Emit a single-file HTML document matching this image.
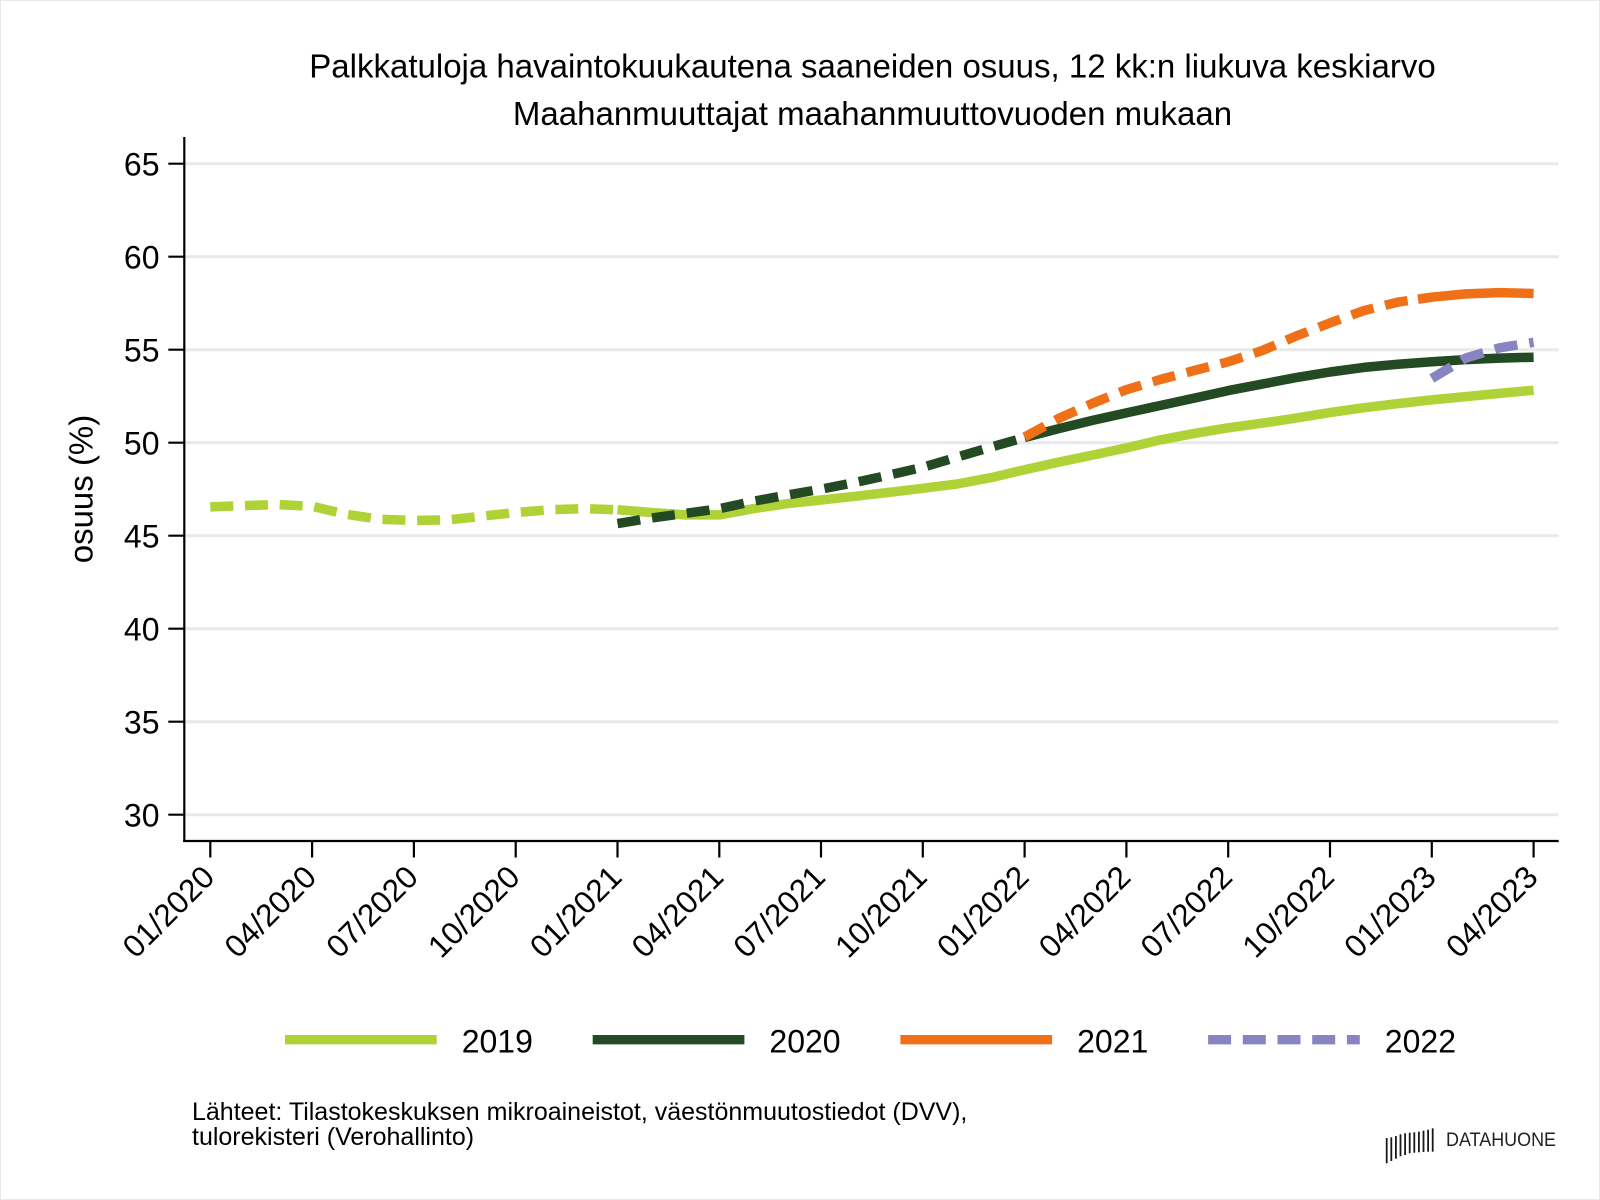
<!DOCTYPE html>
<html>
<head>
<meta charset="utf-8">
<style>
html,body{margin:0;padding:0;background:#fff;}
svg{display:block;}
text{font-family:"Liberation Sans",Arial,sans-serif;fill:#000;}
</style>
</head>
<body>
<svg width="1600" height="1200" viewBox="0 0 1600 1200" xmlns="http://www.w3.org/2000/svg">
<rect x="0" y="0" width="1600" height="1200" fill="#fff"/>
<rect x="0.5" y="0.5" width="1599" height="1199" fill="none" stroke="#e8e8e8" stroke-width="1"/>

<!-- Title -->
<text x="872.5" y="77.3" font-size="33" text-anchor="middle">Palkkatuloja havaintokuukautena saaneiden osuus, 12 kk:n liukuva keskiarvo</text>
<text x="872.5" y="125" font-size="33" text-anchor="middle">Maahanmuuttajat maahanmuuttovuoden mukaan</text>

<!-- Gridlines -->
<g stroke="#e9e9e9" stroke-width="3">
<line x1="185" y1="163.7" x2="1558.7" y2="163.7"/>
<line x1="185" y1="256.7" x2="1558.7" y2="256.7"/>
<line x1="185" y1="349.7" x2="1558.7" y2="349.7"/>
<line x1="185" y1="442.7" x2="1558.7" y2="442.7"/>
<line x1="185" y1="535.7" x2="1558.7" y2="535.7"/>
<line x1="185" y1="628.7" x2="1558.7" y2="628.7"/>
<line x1="185" y1="721.7" x2="1558.7" y2="721.7"/>
<line x1="185" y1="814.7" x2="1558.7" y2="814.7"/>
</g>

<!-- Axes -->
<g stroke="#000" stroke-width="2.2">
<line x1="184.3" y1="137" x2="184.3" y2="842"/>
<line x1="183.2" y1="841" x2="1558.7" y2="841"/>
<line x1="168.3" y1="163.7" x2="184.3" y2="163.7"/>
<line x1="168.3" y1="256.7" x2="184.3" y2="256.7"/>
<line x1="168.3" y1="349.7" x2="184.3" y2="349.7"/>
<line x1="168.3" y1="442.7" x2="184.3" y2="442.7"/>
<line x1="168.3" y1="535.7" x2="184.3" y2="535.7"/>
<line x1="168.3" y1="628.7" x2="184.3" y2="628.7"/>
<line x1="168.3" y1="721.7" x2="184.3" y2="721.7"/>
<line x1="168.3" y1="814.7" x2="184.3" y2="814.7"/>
<line x1="210.3" y1="841" x2="210.3" y2="857.5"/>
<line x1="312.1" y1="841" x2="312.1" y2="857.5"/>
<line x1="413.9" y1="841" x2="413.9" y2="857.5"/>
<line x1="515.7" y1="841" x2="515.7" y2="857.5"/>
<line x1="617.5" y1="841" x2="617.5" y2="857.5"/>
<line x1="719.3" y1="841" x2="719.3" y2="857.5"/>
<line x1="821.0" y1="841" x2="821.0" y2="857.5"/>
<line x1="922.8" y1="841" x2="922.8" y2="857.5"/>
<line x1="1024.6" y1="841" x2="1024.6" y2="857.5"/>
<line x1="1126.4" y1="841" x2="1126.4" y2="857.5"/>
<line x1="1228.2" y1="841" x2="1228.2" y2="857.5"/>
<line x1="1330.0" y1="841" x2="1330.0" y2="857.5"/>
<line x1="1431.8" y1="841" x2="1431.8" y2="857.5"/>
<line x1="1533.6" y1="841" x2="1533.6" y2="857.5"/>
</g>

<!-- Y tick labels -->
<g font-size="32" text-anchor="end">
<text x="159.5" y="175.3">65</text>
<text x="159.5" y="268.3">60</text>
<text x="159.5" y="361.3">55</text>
<text x="159.5" y="454.3">50</text>
<text x="159.5" y="547.3">45</text>
<text x="159.5" y="640.3">40</text>
<text x="159.5" y="733.3">35</text>
<text x="159.5" y="826.3">30</text>
</g>

<!-- Y axis title -->
<text transform="translate(92.5,489) rotate(-90)" font-size="33" text-anchor="middle">osuus (%)</text>

<!-- X tick labels -->
<g font-size="31.5" text-anchor="end">
<text transform="translate(216.3,879) rotate(-45)">01/2020</text>
<text transform="translate(318.1,879) rotate(-45)">04/2020</text>
<text transform="translate(419.9,879) rotate(-45)">07/2020</text>
<text transform="translate(521.7,879) rotate(-45)">10/2020</text>
<text transform="translate(623.5,879) rotate(-45)">01/2021</text>
<text transform="translate(725.3,879) rotate(-45)">04/2021</text>
<text transform="translate(827.0,879) rotate(-45)">07/2021</text>
<text transform="translate(928.8,879) rotate(-45)">10/2021</text>
<text transform="translate(1030.6,879) rotate(-45)">01/2022</text>
<text transform="translate(1132.4,879) rotate(-45)">04/2022</text>
<text transform="translate(1234.2,879) rotate(-45)">07/2022</text>
<text transform="translate(1336.0,879) rotate(-45)">10/2022</text>
<text transform="translate(1437.8,879) rotate(-45)">01/2023</text>
<text transform="translate(1539.6,879) rotate(-45)">04/2023</text>
</g>

<!-- Series -->
<g fill="none" stroke-width="9.5" stroke-linejoin="round" stroke-linecap="butt">
<polyline stroke="#afd236" stroke-dasharray="23 11.7" points="210.3,506.9 244.2,505.6 278.2,504.6 312.1,506.3 346.0,514.3 379.9,519.3 413.9,520.4 447.8,519.9 481.7,516.2 515.7,512.5 549.6,509.7 583.5,508.7 617.5,509.7"/>
<polyline stroke="#afd236" points="617.5,509.7 651.4,512.5 685.3,514.9 719.3,514.9 753.2,508.7 787.1,503.7 821.0,500.0 855.0,496.3 888.9,492.4 922.8,488.3 956.8,484.0 990.7,477.7 1024.6,469.7 1058.6,462.2 1092.5,455.1 1126.4,447.9 1160.3,439.9 1194.3,433.4 1228.2,427.8 1262.1,423.2 1296.1,418.1 1330.0,412.6 1363.9,407.7 1397.9,403.6 1431.8,399.9 1465.7,396.6 1499.6,393.4 1533.6,390.2"/>
<polyline stroke="#234a22" stroke-dasharray="23 12" points="617.5,523.6 651.4,518.0 685.3,513.4 719.3,508.7 753.2,501.3 787.1,495.0 821.0,489.2 855.0,482.5 888.9,475.1 922.8,467.3 956.8,457.2 990.7,447.2 1024.6,437.5"/>
<polyline stroke="#234a22" points="1024.6,437.5 1058.6,428.7 1092.5,420.4 1126.4,412.9 1160.3,405.5 1194.3,398.1 1228.2,390.6 1262.1,384.1 1296.1,377.6 1330.0,372.0 1363.9,367.4 1397.9,364.2 1431.8,361.8 1465.7,359.6 1499.6,358.1 1533.6,357.2"/>
<polyline stroke="#f07018" stroke-dasharray="23 12" points="1024.6,437.1 1058.6,418.5 1092.5,403.3 1126.4,389.7 1160.3,379.5 1194.3,370.5 1228.2,361.8 1262.1,350.6 1296.1,336.1 1330.0,322.9 1363.9,310.6 1397.9,302.1 1431.8,297.2"/>
<polyline stroke="#f07018" points="1418,299.2 1431.8,297.2 1465.7,293.9 1499.6,292.6 1533.6,293.5"/>
<polyline stroke="#8884c2" stroke-dasharray="23 12" points="1431.8,378.5 1465.7,358.1 1499.6,347.8 1533.6,342.3"/>
</g>

<!-- Legend -->
<g stroke-width="9.3" stroke-linecap="butt">
<line x1="285" y1="1039.7" x2="436.7" y2="1039.7" stroke="#afd236"/>
<line x1="592.7" y1="1039.7" x2="744.4" y2="1039.7" stroke="#234a22"/>
<line x1="900.4" y1="1039.7" x2="1052.1" y2="1039.7" stroke="#f07018"/>
<line x1="1208.1" y1="1039.7" x2="1359.8" y2="1039.7" stroke="#8884c2" stroke-dasharray="23 11.7"/>
</g>
<g font-size="32">
<text x="461.7" y="1052.3">2019</text>
<text x="769.4" y="1052.3">2020</text>
<text x="1077.1" y="1052.3">2021</text>
<text x="1384.8" y="1052.3">2022</text>
</g>

<!-- Footer -->
<text x="192" y="1120" font-size="25">Lähteet: Tilastokeskuksen mikroaineistot, väestönmuutostiedot (DVV),</text>
<text x="192" y="1145" font-size="25">tulorekisteri (Verohallinto)</text>

<!-- Logo -->
<g stroke="#1a1a1a" stroke-width="1.8">
<line x1="1386.7" y1="1138.0" x2="1386.7" y2="1163.3"/>
<line x1="1391.3" y1="1137.3" x2="1391.3" y2="1161.0"/>
<line x1="1395.9" y1="1136.0" x2="1395.9" y2="1158.7"/>
<line x1="1400.5" y1="1134.3" x2="1400.5" y2="1156.3"/>
<line x1="1405.1" y1="1133.3" x2="1405.1" y2="1155.0"/>
<line x1="1409.7" y1="1132.7" x2="1409.7" y2="1153.3"/>
<line x1="1414.3" y1="1132.3" x2="1414.3" y2="1152.7"/>
<line x1="1418.9" y1="1131.7" x2="1418.9" y2="1152.3"/>
<line x1="1423.5" y1="1130.7" x2="1423.5" y2="1152.0"/>
<line x1="1428.1" y1="1129.7" x2="1428.1" y2="1151.7"/>
<line x1="1432.7" y1="1128.3" x2="1432.7" y2="1151.7"/>
</g>
<text x="1446" y="1146" font-size="19" textLength="110" lengthAdjust="spacingAndGlyphs" style="fill:#222">DATAHUONE</text>
</svg>
</body>
</html>
